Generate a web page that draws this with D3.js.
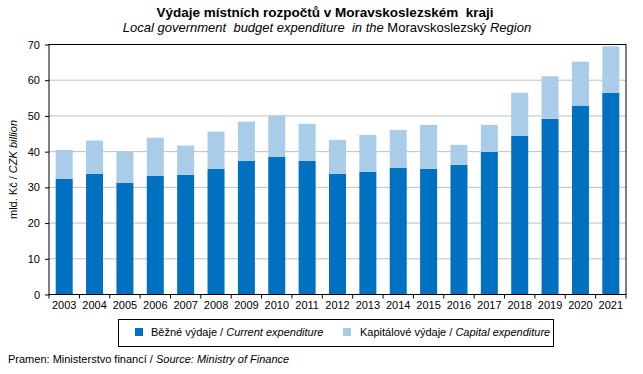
<html>
<head>
<meta charset="utf-8">
<style>
  body { margin: 0; background: #fff; }
  svg text { font-family: "Liberation Sans", Arial, sans-serif; fill: #000; }
  .keep { white-space: pre; }
</style>
<script src="https://d3js.org/d3.v7.min.js"></script>
</head>
<body>
<svg width="643" height="374"></svg>
<script>
var years = ["2003","2004","2005","2006","2007","2008","2009","2010","2011","2012",
             "2013","2014","2015","2016","2017","2018","2019","2020","2021"];
var current = [32.4, 33.8, 31.3, 33.2, 33.5, 35.2, 37.4, 38.6, 37.4, 33.8,
               34.4, 35.5, 35.2, 36.3, 39.9, 44.4, 49.2, 52.9, 56.5];
var capital = [8.1, 9.3, 8.7, 10.7, 8.2, 10.4, 11.0, 11.5, 10.4, 9.5,
               10.3, 10.6, 12.3, 5.6, 7.6, 12.1, 11.9, 12.3, 13.0];
var yTicks = [0, 10, 20, 30, 40, 50, 60, 70];

var svg = d3.select("svg");
var plotL = 49, plotR = 626, plotT = 44.5, plotB = 294.5;

var x = d3.scaleBand().domain(years).range([plotL, plotR]).paddingInner(0.44).paddingOuter(0.22);
var y = d3.scaleLinear().domain([0, 70]).range([plotB, plotT]);

// gridlines
svg.append("g").selectAll("line")
   .data(yTicks.filter(function(d){ return d > 0 && d < 70; }))
   .enter().append("line")
   .attr("x1", plotL).attr("x2", plotR)
   .attr("y1", function(d){ return y(d); }).attr("y2", function(d){ return y(d); })
   .attr("stroke", "#bfbfbf").attr("stroke-width", 1);

// bars
var rows = years.map(function(yr, i){ return {year: yr, cur: current[i], cap: capital[i]}; });
svg.append("g").selectAll("rect")
   .data(rows).enter().append("rect")
   .attr("x", function(d){ return x(d.year); })
   .attr("width", x.bandwidth())
   .attr("y", function(d){ return y(d.cur); })
   .attr("height", function(d){ return y(0) - y(d.cur); })
   .attr("fill", "#0070c0");
svg.append("g").selectAll("rect")
   .data(rows).enter().append("rect")
   .attr("x", function(d){ return x(d.year); })
   .attr("width", x.bandwidth())
   .attr("y", function(d){ return y(d.cur + d.cap); })
   .attr("height", function(d){ return y(d.cur) - y(d.cur + d.cap); })
   .attr("fill", "#a9cce8");

// frame
svg.append("rect")
   .attr("x", plotL).attr("y", plotT)
   .attr("width", plotR - plotL).attr("height", plotB - plotT)
   .attr("fill", "none").attr("stroke", "#000").attr("stroke-width", 1);

// y axis
var yAxis = svg.append("g")
   .attr("transform", "translate(" + plotL + ",0)")
   .call(d3.axisLeft(y).tickValues(yTicks).tickSize(4).tickPadding(5));
yAxis.select(".domain").remove();
yAxis.selectAll("text").style("font-size", "11px");

// x axis, ticks between categories
var xAxis = svg.append("g")
   .attr("transform", "translate(0," + plotB + ")")
   .call(d3.axisBottom(x).tickSize(0).tickPadding(7));
xAxis.select(".domain").remove();
xAxis.selectAll("text").style("font-size", "11px");
svg.append("g").selectAll("line")
   .data(d3.range(years.length + 1))
   .enter().append("line")
   .attr("x1", function(i){ return plotL + i * (plotR - plotL) / years.length; })
   .attr("x2", function(i){ return plotL + i * (plotR - plotL) / years.length; })
   .attr("y1", plotB).attr("y2", plotB + 4)
   .attr("stroke", "#000");

// y label
svg.append("text")
   .attr("transform", "translate(17," + ((plotT + plotB) / 2) + ") rotate(-90)")
   .attr("text-anchor", "middle")
   .style("font-size", "11px")
   .html('mld. Kč / <tspan font-style="italic">CZK billion</tspan>');

// titles
svg.append("text")
   .attr("class", "keep")
   .attr("x", 325).attr("y", 17)
   .attr("text-anchor", "middle")
   .style("font-size", "13.5px").style("font-weight", "bold")
   .text("Výdaje místních rozpočtů v Moravskoslezském  kraji");
svg.append("text")
   .attr("class", "keep")
   .attr("x", 327).attr("y", 32)
   .attr("text-anchor", "middle")
   .style("font-size", "13px")
   .html('<tspan font-style="italic">Local government  budget expenditure  in the</tspan> Moravskoslezský <tspan font-style="italic">Region</tspan>');

// legend
svg.append("rect")
   .attr("x", 118.5).attr("y", 319.5).attr("width", 435).attr("height", 27)
   .attr("fill", "none").attr("stroke", "#000");
svg.append("rect").attr("x", 135).attr("y", 328).attr("width", 8).attr("height", 8).attr("fill", "#0070c0");
svg.append("text").attr("x", 151).attr("y", 336).style("font-size", "11px")
   .html('Běžné výdaje / <tspan font-style="italic">Current expenditure</tspan>');
svg.append("rect").attr("x", 343).attr("y", 328).attr("width", 8).attr("height", 8).attr("fill", "#a9cce8");
svg.append("text").attr("x", 360).attr("y", 336).style("font-size", "11px")
   .html('Kapitálové výdaje / <tspan font-style="italic">Capital expenditure</tspan>');

// source
svg.append("text").attr("x", 8).attr("y", 363).style("font-size", "11px")
   .html('Pramen: Ministerstvo financí / <tspan font-style="italic">Source: Ministry of Finance</tspan>');
</script>
</body>
</html>
